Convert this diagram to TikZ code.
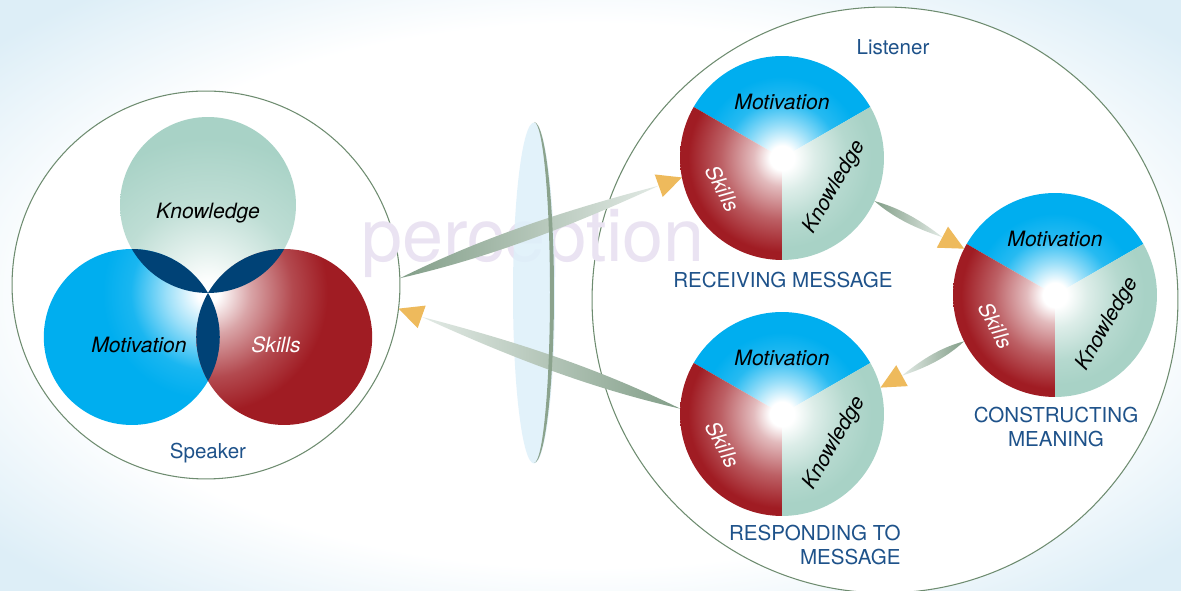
\documentclass[tikz,border=0pt]{standalone}
\usepackage{fontspec}
\setmainfont{TeX Gyre Heros}
\usetikzlibrary{calc, positioning}

\definecolor{motblue}{RGB}{0,174,239}
\definecolor{skired}{RGB}{160,28,35}
\definecolor{knosage}{RGB}{168,210,198}
\definecolor{overlap}{RGB}{0,66,118}
\definecolor{tagblue}{RGB}{30,82,138}
\definecolor{ringgreen}{RGB}{110,140,112}
\definecolor{shaftdark}{RGB}{130,158,136}
\definecolor{shaftlight}{RGB}{226,234,229}
\definecolor{headorange}{RGB}{238,186,92}
\definecolor{lensblue}{RGB}{222,240,250}
\definecolor{bgblue}{RGB}{221,238,247}
\definecolor{wmark}{RGB}{234,227,242}

% shadings: 25bp = edge of the shaded circle
\pgfdeclareradialshading{vignette}{\pgfpointorigin}{color(0bp)=(white); color(23bp)=(white); color(33bp)=(bgblue); color(50bp)=(bgblue)}
\pgfdeclareradialshading{vennmot}{\pgfpointorigin}{color(0bp)=(white); color(1.5bp)=(white); color(6bp)=(motblue!40!white); color(11bp)=(motblue!90!white); color(15bp)=(motblue); color(50bp)=(motblue)}
\pgfdeclareradialshading{vennski}{\pgfpointorigin}{color(0bp)=(white); color(1.5bp)=(white); color(6bp)=(skired!40!white); color(12bp)=(skired!80!white); color(17bp)=(skired); color(50bp)=(skired)}
\pgfdeclareradialshading{vennkno}{\pgfpointorigin}{color(0bp)=(white); color(1.5bp)=(white); color(6bp)=(knosage!30!white); color(13bp)=(knosage!75!white); color(22bp)=(knosage); color(50bp)=(knosage)}
\pgfdeclareradialshading{piemot}{\pgfpointorigin}{color(0bp)=(white); color(3bp)=(white); color(8bp)=(motblue!40!white); color(14bp)=(motblue!85!white); color(20bp)=(motblue); color(50bp)=(motblue)}
\pgfdeclareradialshading{pieski}{\pgfpointorigin}{color(0bp)=(white); color(3bp)=(white); color(7bp)=(skired!30!white); color(15bp)=(skired!70!white); color(23bp)=(skired); color(50bp)=(skired)}
\pgfdeclareradialshading{piekno}{\pgfpointorigin}{color(0bp)=(white); color(3bp)=(white); color(8bp)=(knosage!40!white); color(16bp)=(knosage!85!white); color(22bp)=(knosage); color(50bp)=(knosage)}

\tikzset{
  ring/.style={circle, draw=ringgreen, line width=0.6pt, fill=white,
    inner sep=0pt, outer sep=0pt},
  disk/.style={circle, inner sep=0pt, outer sep=0pt, minimum size=#1},
  tag/.style={font=\fontsize{11.7}{13.2}\selectfont, text=tagblue,
    align=center, inner sep=0pt},
  word/.style={font=\fontsize{12}{14}\selectfont\itshape, inner sep=0pt}
}

% one third of a pie: node, start angle, end angle, shading
\newcommand{\pieslice}[4]{%
  \begin{scope}
    \clip (#1.center) -- ([shift={(#2:2.04cm)}]#1.center)
      arc[start angle=#2, end angle=#3, radius=2.04cm] -- cycle;
    \shade[shading=#4] (#1.center) circle[radius=2.04cm];
  \end{scope}}

% the whole pie with its three words
\newcommand{\pie}[1]{%
  \pieslice{#1}{30}{150}{piemot}
  \pieslice{#1}{150}{270}{pieski}
  \pieslice{#1}{270}{390}{piekno}
  \node[word] (#1-mot) at ([shift={(90:1.12cm)}]#1.center) {Motivation};
  \node[word, text=white, rotate=-62] (#1-ski) at ([shift={(207:1.33cm)}]#1.center) {Skills};
  \node[word, rotate=60] (#1-kno) at ([shift={(-29:1.2cm)}]#1.center) {Knowledge};}

% tapered shaft + orange head: [shading], tail, tip, bulge
\newcommand{\flow}[4][]{%
  \coordinate (fb) at ($(#3)!14pt!(#2)$);
  \shade[#1] (#2)
    .. controls ($(#2)!0.3!(fb)!#4!90:(fb)$) and ($(#2)!0.6!(fb)!#4!90:(fb)$) .. (fb)
    .. controls ($(#2)!0.6!(fb)!#4!-90:(fb)$) and ($(#2)!0.3!(fb)!#4!-90:(fb)$) .. (#2)
    -- cycle;
  \fill[headorange] (#3) -- ($(fb)!6.8pt!90:(#3)$) -- ($(fb)!6.8pt!-90:(#3)$) -- cycle;}

\begin{document}
\begin{tikzpicture}[x=0.02cm, y=0.02cm]

%% -- page and background ------------------------------------
\useasboundingbox (0,0) rectangle (1181,591);
\shade[shading=vignette] (0,0) rectangle (1181,591);

%% -- the two big rings ---------------------------------------
\node[ring, minimum size=7.76cm]  (speaker)  at (206,306) {};
\node[ring, minimum size=11.72cm] (listener) at (885,291) {};

%% -- pie places (drawn further down) -------------------------
\node[disk=4.08cm] (recv) at (782,433) {};
\node[disk=4.08cm] (cons) at (1055,296) {};
\node[disk=4.08cm] (resp) at (782,177) {};

%% -- watermark and lens --------------------------------------
\node[font=\fontsize{42}{42}\selectfont, text=wmark, anchor=base,
  inner sep=0pt] (wm) at (533,329) {perception};
\coordinate (lens) at (534,298);
\fill[lensblue, opacity=0.85] (lens) ellipse[x radius=0.42cm, y radius=3.41cm];

%% -- arrows ---------------------------------------------------
\flow[left color=shaftdark, right color=shaftlight]{speaker.2}{recv.191}{5.5pt}
\flow[left color=shaftlight, right color=shaftdark]{resp.177}{speaker.-7.5}{5.5pt}

% lens rim on top of the shafts
\fill[ringgreen!80!white] ($(lens)+(0,171)$)
  arc[start angle=90, end angle=-90, x radius=0.4cm, y radius=3.41cm]
  arc[start angle=-90, end angle=90, x radius=0.32cm, y radius=3.41cm];

%% -- speaker: venn of three ----------------------------------
\coordinate (hub) at (208,298);
\node[disk=3.52cm] (know) at ($(hub)+(90:88)$)  {};
\node[disk=3.52cm] (mot)  at ($(hub)+(210:88)$) {};
\node[disk=3.52cm] (ski)  at ($(hub)+(330:88)$) {};

\begin{scope}
  \clip (know.center) circle[radius=1.76cm];
  \shade[shading=vennkno] (hub) circle[radius=3.52cm];
\end{scope}
\begin{scope}
  \clip (mot.center) circle[radius=1.76cm];
  \shade[shading=vennmot] (hub) circle[radius=3.52cm];
\end{scope}
\begin{scope}
  \clip (ski.center) circle[radius=1.76cm];
  \shade[shading=vennski] (hub) circle[radius=3.52cm];
\end{scope}

% overlaps
\begin{scope}
  \clip (know.center) circle[radius=1.76cm];
  \fill[overlap] (mot.center) circle[radius=1.76cm];
  \fill[overlap] (ski.center) circle[radius=1.76cm];
\end{scope}
\begin{scope}
  \clip (mot.center) circle[radius=1.76cm];
  \fill[overlap] (ski.center) circle[radius=1.76cm];
\end{scope}

\node[word] (know-t) at (208,378) {Knowledge};
\node[word] (mot-t)  at (139,246) {Motivation};
\node[word, text=white] (ski-t) at (276,246) {Skills};

%% -- listener: three pies -------------------------------------
\pie{recv}
\pie{cons}
\pie{resp}

\flow[left color=shaftdark, right color=shaftlight]{recv.-25}{cons.153}{3pt}
\flow[left color=shaftlight, right color=shaftdark]{cons.207}{resp.15}{3pt}

%% -- captions -------------------------------------------------
\node[tag] (speaker-t)  at (208,138) {Speaker};
\node[tag] (listener-t) at (893,544) {Listener};
\node[tag] (recv-t) at (783,311) {RECEIVING MESSAGE};
\node[tag] (cons-t) at (1056,164) {CONSTRUCTING\\MEANING};
\node[tag, align=right, anchor=east] (resp-t) at (901,46) {RESPONDING TO\\MESSAGE};

\end{tikzpicture}
\end{document}
